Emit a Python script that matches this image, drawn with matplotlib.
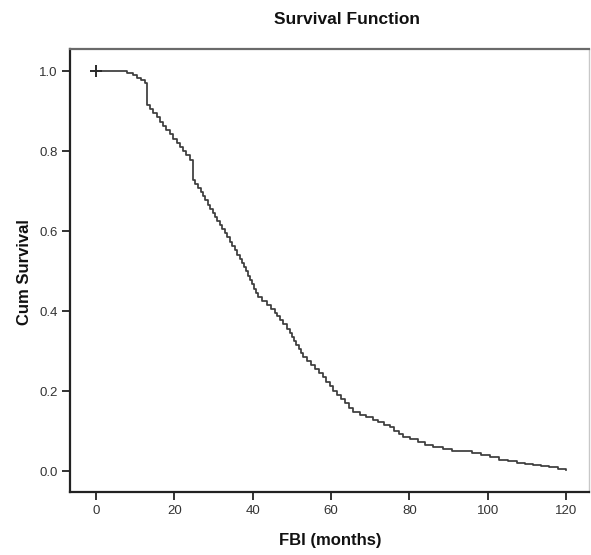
import matplotlib
matplotlib.use("Agg")
import matplotlib.pyplot as plt

plt.rcParams['font.family'] = ['Liberation Sans', 'DejaVu Sans']

# Kaplan-Meier step estimates: (month, cum survival after the step)
step_months = [0, 8.0, 9.5, 10.5, 11.5, 12.5, 13.0,
               13.8, 14.6, 15.5, 16.3, 17.2, 18.0, 18.9, 19.7, 20.6, 21.4, 22.3, 23.1, 24.0,
               24.8,
               25.4, 26.0, 26.7, 27.3, 27.9, 28.5, 29.2, 29.8, 30.4, 31.0, 31.6, 32.3, 32.9,
               33.5, 34.2, 34.8, 35.4, 36.0, 36.7, 37.3,
               37.8, 38.3, 38.8, 39.3, 39.9, 40.4, 40.9, 41.4,
               42.5, 43.6, 44.6, 45.7, 46.3, 47.0, 47.8, 48.7, 49.5,
               50.1, 50.6, 51.2, 51.8, 52.3, 52.9,
               53.9, 54.9, 56.0, 57.0, 58.0, 58.8, 59.7, 60.5,
               61.5, 62.5, 63.5, 64.6, 65.6, 67.3, 69.0, 70.7,
               72.1, 73.6, 75.0, 76.1, 77.3, 78.4,
               80.3, 82.2, 84.1, 86.0, 88.5, 91.0,
               96.0, 98.3, 100.6, 103.0, 105.2, 107.4, 109.5, 111.6,
               113.7, 115.8, 117.9, 120.0]
cum_survival = [1.0, 0.995, 0.99, 0.983, 0.977, 0.97, 0.915,
                0.905, 0.894, 0.884, 0.873, 0.863, 0.852, 0.842, 0.831, 0.820, 0.810, 0.799, 0.789, 0.778,
                0.728,
                0.718, 0.708, 0.697, 0.687, 0.677, 0.666, 0.656, 0.646, 0.636, 0.626, 0.615, 0.605, 0.595,
                0.584, 0.573, 0.563, 0.552, 0.541, 0.531, 0.520,
                0.509, 0.499, 0.488, 0.477, 0.467, 0.456, 0.446, 0.435,
                0.425, 0.415, 0.405, 0.395, 0.387, 0.378, 0.367, 0.356, 0.345,
                0.335, 0.325, 0.315, 0.305, 0.295, 0.285,
                0.275, 0.265, 0.255, 0.245, 0.235, 0.223, 0.212, 0.200,
                0.190, 0.179, 0.169, 0.158, 0.148, 0.141, 0.134, 0.128,
                0.122, 0.116, 0.110, 0.100, 0.093, 0.085,
                0.079, 0.073, 0.066, 0.060, 0.055, 0.050,
                0.045, 0.040, 0.034, 0.0275, 0.024, 0.021, 0.018, 0.015,
                0.012, 0.009, 0.006, 0.003]

censored_months = [0]
censored_surv = [1.0]

x_ticks = [0, 20, 40, 60, 80, 100, 120]
y_ticks = [0.0, 0.2, 0.4, 0.6, 0.8, 1.0]

fig = plt.figure(figsize=(5.91, 5.55), dpi=100)
ax = fig.add_axes([70/591, 1-492/555, (589-70)/591, (492-49)/555])

ax.step(step_months, cum_survival, where='post', color='#3c3c3c', lw=1.25)
ax.plot(censored_months, censored_surv, marker='+', color='#2a2a2a', ms=9, mew=1.4, ls='none')

ax.set_xlim(-6.64, 125.9)
ax.set_ylim(-0.0525, 1.055)
ax.set_xticks(x_ticks)
ax.set_xticklabels([str(v) for v in x_ticks])
ax.set_yticks(y_ticks)
ax.set_yticklabels([f"{v:.1f}" for v in y_ticks])

for s in ['left', 'bottom']:
    ax.spines[s].set_linewidth(1.6)
    ax.spines[s].set_color('#222222')
ax.spines['top'].set_linewidth(1.6)
ax.spines['top'].set_color('#6a6a6a')
ax.spines['right'].set_linewidth(1.0)
ax.spines['right'].set_color('#c8c8c8')

ax.tick_params(axis='both', direction='out', length=6, width=1.3, color='#222222',
               labelsize=9.5, labelcolor='#333333', pad=3)

fig.text(347/591, 1-20/555, 'Survival Function', ha='center', va='center',
         fontsize=12.5, fontweight='bold', color='#111111')
fig.text(330/591, 1-540/555, 'FBI (months)', ha='center', va='center',
         fontsize=12, fontweight='bold', color='#111111')
fig.text(25/591, 1-272/555, 'Cum Survival', ha='center', va='center', rotation=90,
         fontsize=12, fontweight='bold', color='#111111')

fig.savefig('out.png', dpi=100, facecolor='white')
